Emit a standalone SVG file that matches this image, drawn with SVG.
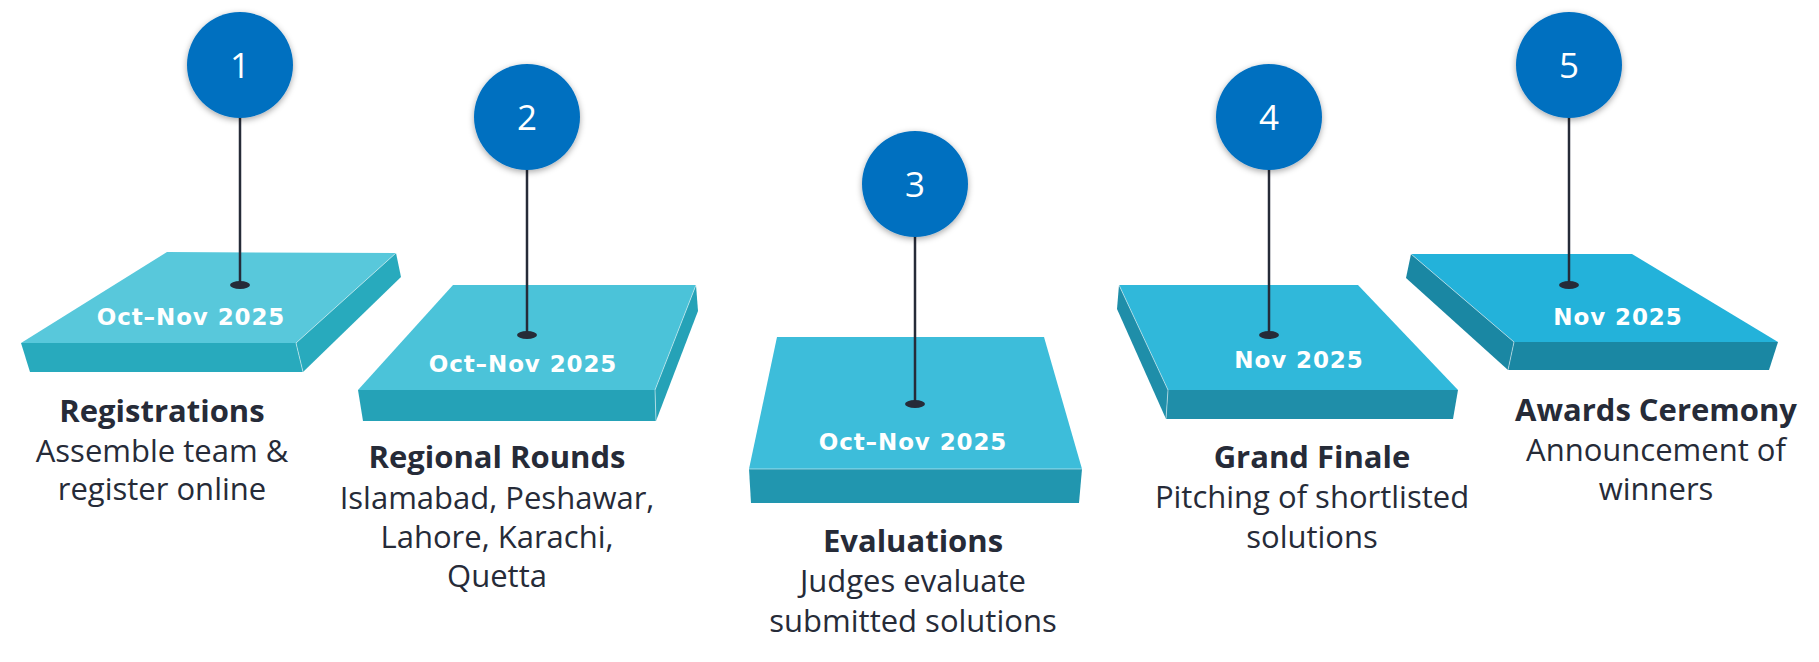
<svg xmlns="http://www.w3.org/2000/svg" width="1819" height="662" viewBox="0 0 1819 662">
<defs>
<filter id="sh" x="-30%" y="-30%" width="160%" height="160%">
<feDropShadow dx="0" dy="2" stdDeviation="3" flood-color="#000" flood-opacity="0.35"/>
</filter>
</defs>
<style>
.num{font-family:"Open Sans","Liberation Sans",sans-serif;font-size:35px;fill:#fff;text-anchor:middle}
.circ{fill:#0070C0;filter:url(#sh)}
.date{font-family:"DejaVu Sans","Liberation Sans",sans-serif;font-weight:bold;font-size:23px;letter-spacing:0.9px;fill:#fff;text-anchor:middle}
.title{font-family:"Open Sans","Liberation Sans",sans-serif;font-weight:bold;font-size:31px;fill:#262B38;text-anchor:middle}
.desc{font-family:"Open Sans","Liberation Sans",sans-serif;font-size:31px;fill:#262B38;text-anchor:middle}
.stem{stroke:#262B38;stroke-width:2.5}
.dot{fill:#262B38}
.edge{fill:none;stroke:#ffffff;stroke-opacity:0.5;stroke-width:1}
</style>
<rect width="1819" height="662" fill="#fff"/>

<g id="platform1">
<polygon points="167,252 396,253 296,343 21,343" fill="#58C8DB"/>
<polygon points="21,343 296,343 303,372 30,372" fill="#28AABD"/>
<polygon points="396,253 401,277 303,372 296,343" fill="#28AABD"/>
<polyline class="edge" points="396,253 296,343 303,372"/>
<text class="date" x="191" y="325">Oct–Nov 2025</text>
</g>
<g id="platform2">
<polygon points="453,285 696,285 655,390 358,390" fill="#4BC3D9"/>
<polygon points="358,390 655,390 656,421 363,421" fill="#25A2B7"/>
<polygon points="696,285 698,311 656,421 655,390" fill="#25A2B7"/>
<polyline class="edge" points="696,285 655,390 656,421"/>
<text class="date" x="523" y="372">Oct–Nov 2025</text>
</g>
<g id="platform3">
<polygon points="777,337 1044,337 1082,469 749,469" fill="#3DBDDA"/>
<polygon points="749,469 1082,469 1079,503 751,503" fill="#2196AF"/>
<line class="edge" x1="749" y1="469" x2="1082" y2="469"/>
<text class="date" x="913" y="450">Oct–Nov 2025</text>
</g>
<g id="platform4">
<polygon points="1119,285 1358,285 1458,390 1168,390" fill="#30B8DA"/>
<polygon points="1168,390 1458,390 1453,419 1166,419" fill="#1F8EA9"/>
<polygon points="1119,285 1117,309 1166,419 1168,390" fill="#1F8EA9"/>
<polyline class="edge" points="1119,285 1168,390 1166,419"/>
<text class="date" x="1299" y="368">Nov 2025</text>
</g>
<g id="platform5">
<polygon points="1411,254 1632,254 1778,342 1514,342" fill="#23B2DA"/>
<polygon points="1514,342 1778,342 1769,370 1508,370" fill="#1A87A3"/>
<polygon points="1411,254 1406,278 1508,370 1514,342" fill="#1A87A3"/>
<polyline class="edge" points="1411,254 1514,342 1508,370"/>
<text class="date" x="1618" y="325">Nov 2025</text>
</g>

<g id="connectors">
<line class="stem" x1="240" y1="115" x2="240" y2="285"/>
<ellipse class="dot" cx="240" cy="285" rx="10" ry="4"/>
<line class="stem" x1="527" y1="167" x2="527" y2="335"/>
<ellipse class="dot" cx="527" cy="335" rx="10" ry="4"/>
<line class="stem" x1="915" y1="235" x2="915" y2="404"/>
<ellipse class="dot" cx="915" cy="404" rx="10" ry="4"/>
<line class="stem" x1="1269" y1="167" x2="1269" y2="335"/>
<ellipse class="dot" cx="1269" cy="335" rx="10" ry="4"/>
<line class="stem" x1="1569" y1="115" x2="1569" y2="285"/>
<ellipse class="dot" cx="1569" cy="285" rx="10" ry="4"/>
</g>

<g id="step1">
<circle class="circ" cx="240" cy="65" r="53"/>
<text class="num" x="240" y="78">1</text>
<text class="title" x="162" y="422">Registrations</text>
<text class="desc" x="162" y="462">Assemble team &amp;</text>
<text class="desc" x="162" y="500">register online</text>
</g>
<g id="step2">
<circle class="circ" cx="527" cy="117" r="53"/>
<text class="num" x="527" y="130">2</text>
<text class="title" x="497" y="468">Regional Rounds</text>
<text class="desc" x="497" y="509">Islamabad, Peshawar,</text>
<text class="desc" x="497" y="548">Lahore, Karachi,</text>
<text class="desc" x="497" y="587">Quetta</text>
</g>
<g id="step3">
<circle class="circ" cx="915" cy="184" r="53"/>
<text class="num" x="915" y="197">3</text>
<text class="title" x="913" y="552">Evaluations</text>
<text class="desc" x="913" y="592">Judges evaluate</text>
<text class="desc" x="913" y="632">submitted solutions</text>
</g>
<g id="step4">
<circle class="circ" cx="1269" cy="117" r="53"/>
<text class="num" x="1269" y="130">4</text>
<text class="title" x="1312" y="468">Grand Finale</text>
<text class="desc" x="1312" y="508">Pitching of shortlisted</text>
<text class="desc" x="1312" y="548">solutions</text>
</g>
<g id="step5">
<circle class="circ" cx="1569" cy="65" r="53"/>
<text class="num" x="1569" y="78">5</text>
<text class="title" x="1656" y="421">Awards Ceremony</text>
<text class="desc" x="1656" y="461">Announcement of</text>
<text class="desc" x="1656" y="500">winners</text>
</g>
</svg>
